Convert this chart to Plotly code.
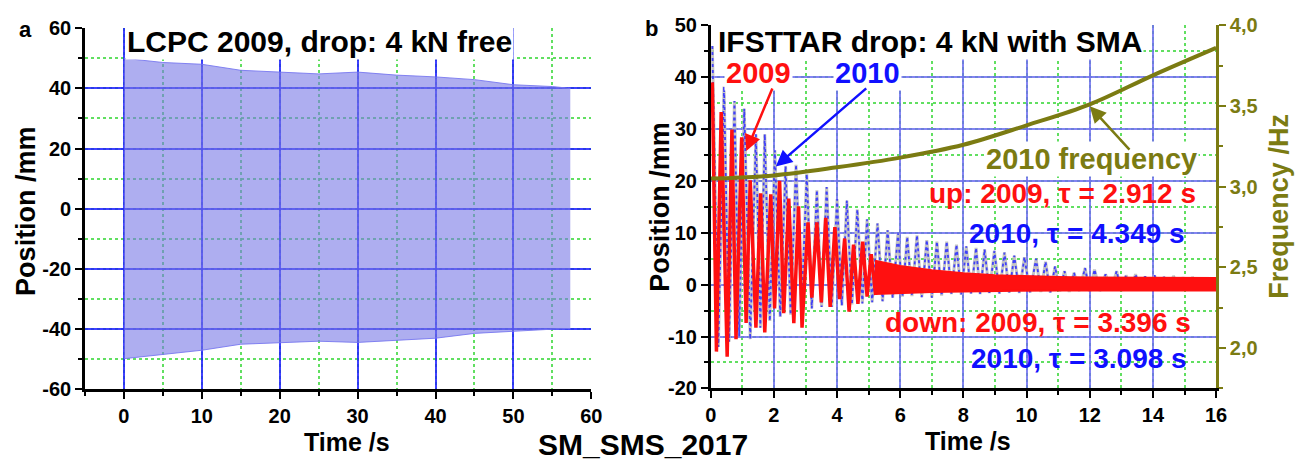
import plotly.graph_objects as go

# ---------------- data ----------------
# panel a: LCPC 2009 envelope of the oscillation
lcpc_t = [0, 5, 10, 15, 20, 25, 30, 35, 40, 45, 50, 55, 57.3]
lcpc_upper = [50, 48.6, 48, 46, 45.4, 44.8, 45.4, 44.4, 43.8, 42.9, 41.2, 40.6, 40]
lcpc_lower = [-49.8, -48.3, -47, -45, -44.4, -44, -44.4, -43.8, -43, -41.4, -40.6, -40, -39.8]

# panel b: 2009 (red) extremes
red_up_t = [0.05, 0.33, 0.67, 0.98, 1.25, 1.58, 1.90, 2.18, 2.47, 2.78, 3.08, 3.36, 3.64, 3.93, 4.24, 4.52, 4.81, 5.08]
red_up_v = [39, 33.3, 29.9, 28.4, 20.1, 17.6, 17.4, 20.0, 16.6, 15.1, 12.0, 12.0, 12.9, 11.1, 8.9, 7.7, 8.3, 5.9]
red_dn_t = [0.18, 0.52, 0.80, 1.12, 1.43, 1.71, 2.02, 2.31, 2.63, 2.89, 3.20, 3.50, 3.78, 4.08, 4.38, 4.66, 4.95, 5.22]
red_dn_v = [-12.9, -13.9, -10.5, -7.4, -8.3, -9.2, -4.6, -5.5, -7.4, -8.3, -2.5, -3.4, -4.3, -2.8, -5.2, -3.7, -2.3, -2.0]
# 2009 residual noise band after ~5 s
red_band_t = [5.2, 6, 7, 8, 9, 10, 11, 12, 13, 14, 15, 16]
red_band_up = [4.6, 3.6, 2.8, 2.2, 1.8, 1.6, 1.5, 1.4, 1.4, 1.3, 1.3, 1.3]
red_band_dn = [-1.8, -1.6, -1.4, -1.3, -1.2, -1.2, -1.1, -1.1, -1.1, -1.1, -1.1, -1.1]

# panel b: 2010 (blue) extremes
blue_up_t = [0.05, 0.42, 0.75, 1.06, 1.43, 1.71, 2.03, 2.37, 2.70, 3.04, 3.36, 3.67, 4.00, 4.31, 4.64, 4.95,
             5.28, 5.60, 5.93, 6.22, 6.53, 6.84, 7.16, 7.47, 7.78, 8.09, 8.40, 8.67, 8.98, 9.30, 9.61, 9.93,
             10.30, 10.60, 10.90, 11.20, 11.50, 11.85, 12.15, 12.50, 12.85, 13.15, 13.45, 13.75, 14.05,
             14.35, 14.65, 14.95, 15.25, 15.55, 15.85]
blue_up_v = [46, 38.2, 35.4, 33.9, 29.0, 29.0, 25.9, 22.8, 23.1, 21.3, 18.2, 18.8, 16.5, 16.2, 14.5, 12.6,
             11.8, 10.5, 9.9, 9.2, 9.5, 8.6, 8.3, 8.3, 7.7, 7.4, 7.1, 6.8, 6.5, 6.2, 5.6, 5.3,
             5.0, 4.4, 3.5, 2.6, 2.3, 3.2, 2.9, 2.0, 2.6, 1.8, 2.0, 1.6, 1.8,
             1.5, 1.7, 1.4, 1.5, 1.3, 1.4]
blue_dn_t = [0.24, 0.58, 0.90, 1.25, 1.57, 1.87, 2.20, 2.53, 2.87, 3.20, 3.51, 3.83, 4.15, 4.47, 4.80,
             5.11, 5.44, 5.76, 6.07, 6.37, 6.68, 7.00, 7.31, 7.62, 7.93, 8.24, 8.53, 8.82, 9.14, 9.45,
             9.77, 10.11, 10.45, 10.75, 11.05, 11.35, 11.67, 12.00, 12.32, 12.67, 13.00, 13.30, 13.60,
             13.90, 14.20, 14.50, 14.80, 15.10, 15.40, 15.70]
blue_dn_v = [-12, -11, -10, -10.5, -8.3, -7, -6.2, -5.8, -4.9, -4.6, -4.3, -4.3, -4.0, -3.8, -3.6,
             -3.4, -3.2, -2.5, -2.3, -2.2, -2.4, -2.5, -2.1, -1.8, -1.9, -1.7, -1.8, -1.6, -1.7, -1.5,
             -1.6, -1.5, -1.4, -1.5, -1.3, -1.4, -1.2, -1.3, -1.2, -1.1, -1.2, -1.0, -1.1,
             -1.0, -1.1, -1.0, -0.9, -1.0, -0.9, -1.0]

# panel b: 2010 frequency
freq_t = [0, 2, 4, 6, 8, 10, 12, 14, 16]
freq_v = [3.05, 3.07, 3.12, 3.18, 3.26, 3.38, 3.51, 3.69, 3.86]

# tick labels
xa_ticks = [0, 10, 20, 30, 40, 50, 60]
ya_ticks = [-60, -40, -20, 0, 20, 40, 60]
xb_ticks = [0, 2, 4, 6, 8, 10, 12, 14, 16]
yb_ticks = [-20, -10, 0, 10, 20, 30, 40, 50]
fb_ticks = [2.0, 2.5, 3.0, 3.5, 4.0]
fb_labels = ["2,0", "2,5", "3,0", "3,5", "4,0"]


def merge(t1, v1, t2, v2):
    pts = sorted(zip(t1 + t2, v1 + v2))
    return [p[0] for p in pts], [p[1] for p in pts]


red_t, red_v = merge(red_up_t, red_up_v, red_dn_t, red_dn_v)
blue_t, blue_v = merge(blue_up_t, blue_up_v, blue_dn_t, blue_dn_v)

# ---------------- figure ----------------
W, H = 1312, 469
FONT = "Liberation Sans, Arial, sans-serif"
OLIVE = "#7b7b12"


def px(x):
    return x / W


def py(y):
    return 1 - y / H


def bold(vals):
    return ["<b>%s</b>" % v for v in vals]


fig = go.Figure()

# panel a band
fig.add_trace(go.Scatter(x=lcpc_t, y=lcpc_upper, mode="lines",
                         line=dict(color="rgba(120,120,240,0.9)", width=1),
                         xaxis="x", yaxis="y", showlegend=False, hoverinfo="skip"))
fig.add_trace(go.Scatter(x=lcpc_t, y=lcpc_lower, mode="lines", fill="tonexty",
                         fillcolor="rgba(120,120,230,0.6)",
                         line=dict(color="rgba(120,120,240,0.9)", width=1),
                         xaxis="x", yaxis="y", showlegend=False, hoverinfo="skip"))

# panel b: 2010 (gray shadow + blue dotted)
fig.add_trace(go.Scatter(x=blue_t, y=blue_v, mode="lines",
                         line=dict(color="rgba(190,190,190,0.9)", width=3),
                         xaxis="x2", yaxis="y2", showlegend=False))
fig.add_trace(go.Scatter(x=blue_t, y=blue_v, mode="lines",
                         line=dict(color="rgba(50,50,255,0.9)", width=1.8, dash="dot"),
                         xaxis="x2", yaxis="y2", showlegend=False))
# panel b: 2009 red
fig.add_trace(go.Scatter(x=red_t, y=red_v, mode="lines",
                         line=dict(color="#ff1010", width=3.5),
                         xaxis="x2", yaxis="y2", showlegend=False))
fig.add_trace(go.Scatter(x=red_band_t, y=red_band_up, mode="lines",
                         line=dict(color="#ff1010", width=2),
                         xaxis="x2", yaxis="y2", showlegend=False))
fig.add_trace(go.Scatter(x=red_band_t, y=red_band_dn, mode="lines", fill="tonexty",
                         fillcolor="#ff1010", line=dict(color="#ff1010", width=2),
                         xaxis="x2", yaxis="y2", showlegend=False))
# frequency
fig.add_trace(go.Scatter(x=freq_t, y=freq_v, mode="lines", line_shape="spline",
                         line=dict(color=OLIVE, width=4),
                         xaxis="x2", yaxis="y3", showlegend=False))

tickfont = dict(family=FONT, size=20, color="black", weight="bold")
major_grid_a = "rgba(30,30,255,0.85)"
major_grid_b = "rgba(110,110,240,0.85)"
minor_grid = "rgba(80,220,80,0.9)"

common = dict(showline=True, linecolor="black", linewidth=2.5, ticks="outside", ticklen=7,
              tickwidth=2, tickcolor="black", zeroline=False, tickfont=tickfont,
              showgrid=True, gridwidth=1.5, tickmode="array")


def minor(dt, color="black", grid=True):
    return dict(tickmode="linear", tick0=0, dtick=dt, ticklen=4, tickwidth=2, tickcolor=color,
                showgrid=grid, gridcolor=minor_grid, griddash="dot", gridwidth=2)


fig.update_layout(
    width=W, height=H,
    margin=dict(l=0, r=0, t=0, b=0),
    paper_bgcolor="white", plot_bgcolor="white",
    showlegend=False,
    xaxis=dict(domain=[px(80), px(593)], range=[-5, 60], anchor="y",
               tickvals=xa_ticks, ticktext=bold(xa_ticks), ticklabelstandoff=0,
               gridcolor=major_grid_a, minor=minor(5), **common),
    yaxis=dict(domain=[py(397), py(18)], range=[-60, 60], anchor="x",
               tickvals=ya_ticks, ticktext=bold(ya_ticks),
               gridcolor=major_grid_a, minor=minor(10), **common),
    xaxis2=dict(domain=[px(714), px(1226)], range=[0, 16], anchor="y2",
                tickvals=xb_ticks, ticktext=bold(xb_ticks), ticklabelstandoff=0,
                gridcolor=major_grid_b, minor=minor(1), **common),
    yaxis2=dict(domain=[py(396), py(15)], range=[-20, 50], anchor="x2",
                tickvals=yb_ticks, ticktext=bold(yb_ticks),
                gridcolor=major_grid_b, minor=minor(5), **common),
    yaxis3=dict(overlaying="y2", side="right", anchor="x2", range=[1.75, 4.0],
                tickmode="array", tickvals=fb_ticks, ticktext=bold(fb_labels),
                showgrid=False, zeroline=False, showline=True, linecolor=OLIVE,
                linewidth=2.5, ticks="outside", ticklen=7, tickwidth=2, tickcolor=OLIVE,
                tickfont=dict(family=FONT, size=20, color=OLIVE, weight="bold"),
                minor=dict(tickmode="linear", tick0=2, dtick=0.25, ticklen=4, tickwidth=2,
                           tickcolor=OLIVE)),
)

ann = []


def text(x, y, s, size, color="black", angle=0, bg=None, xanchor="center"):
    d = dict(x=px(x), y=py(y), xref="paper", yref="paper", text="<b>%s</b>" % s, showarrow=False,
             font=dict(family=FONT, size=size, color=color),
             textangle=angle, xanchor=xanchor, yanchor="middle")
    if bg:
        d.update(bgcolor=bg, borderpad=1)
    ann.append(d)


text(20, 19, "a", 22)
text(654, 18, "b", 22)
text(318, 32, "LCPC 2009, drop: 4 kN free", 30, bg="white")
text(936, 32, "IFSTTAR drop: 4 kN with SMA", 30, bg="white")
text(345, 452, "Time /s", 25)
text(975, 451, "Time /s", 25)
text(20, 210, "Position /mm", 27, angle=-90)
text(663, 205, "Position /mm", 27, angle=-90)
text(1290, 205, "Frequency /Hz", 27, color=OLIVE, angle=-90)
text(645, 455, "SM_SMS_2017", 30)
text(762, 65, "2009", 29, color="#ff1010", bg="white")
text(873, 65, "2010", 29, color="#1010ff", bg="white")
text(1100, 155, "2010 frequency", 29, color=OLIVE, bg="white")
text(1208, 191, "up: 2009, \u03c4 = 2.912 s", 28, color="#ff1010", xanchor="right")
text(1196, 233, "2010, \u03c4 = 4.349 s", 28, color="#1010ff", xanchor="right")
text(1203, 327, "down: 2009, \u03c4 = 3.396 s", 28, color="#ff1010", xanchor="right")
text(1199, 365, "2010, \u03c4 = 3.098 s", 28, color="#1010ff", xanchor="right")


def arrow(tx, ty, ax, ay, color):
    ann.append(dict(x=tx, y=ty, ax=ax, ay=ay, xref="x2", yref="y2", axref="x2", ayref="y2",
                    text="", showarrow=True, arrowhead=2, arrowsize=1.3, arrowwidth=2.5,
                    arrowcolor=color))


arrow(1.125, 25.75, 1.97, 38.1, "#ff1010")
arrow(2.06, 22.8, 4.97, 38.1, "#1010ff")
arrow(12.0, 34.4, 13.3, 25.75, OLIVE)

fig.update_layout(annotations=ann)
fig.write_html("out.html")
